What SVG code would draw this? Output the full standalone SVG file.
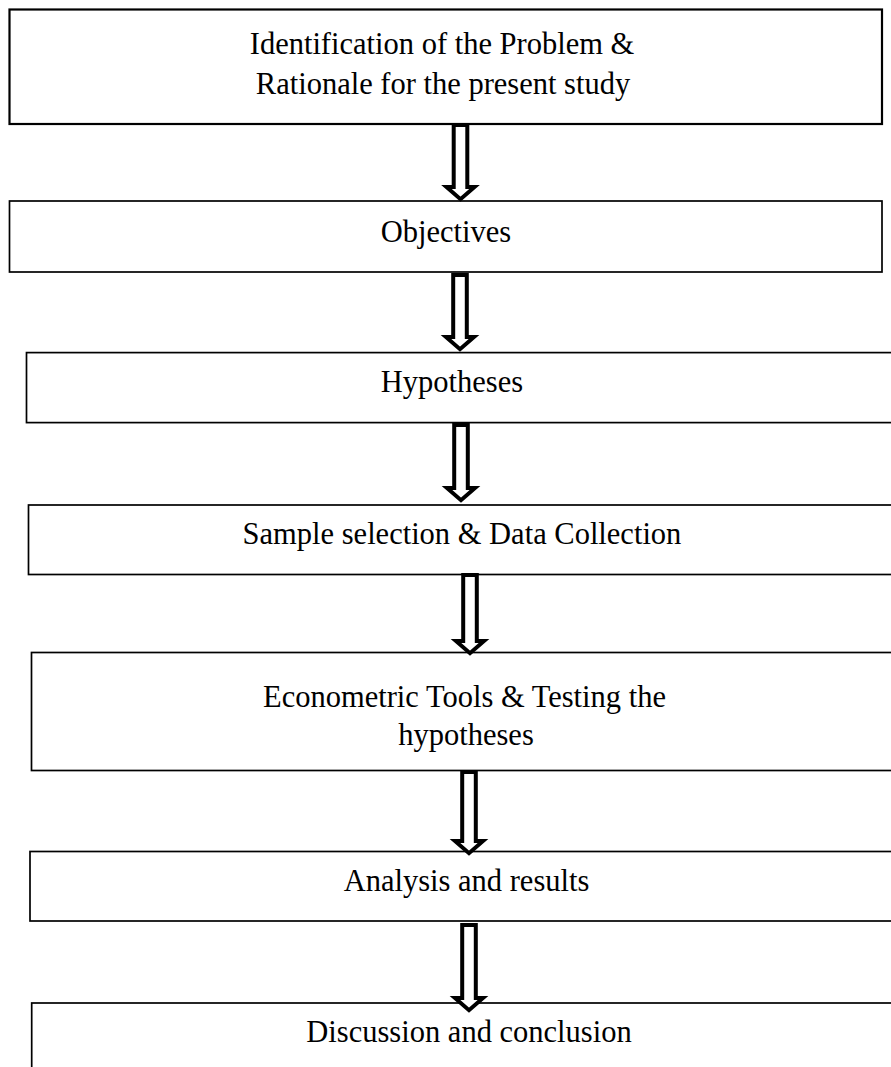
<svg xmlns="http://www.w3.org/2000/svg" width="891" height="1067" viewBox="0 0 891 1067">
<style>
.box{fill:#fff;stroke:#000;stroke-width:1.7}
.t{font-family:"Liberation Serif","Times New Roman",serif;font-size:30.5px;fill:#000;text-anchor:middle}
.arr{fill:#fff;stroke:#000;stroke-width:4;stroke-linejoin:miter}
</style>
<rect width="891" height="1067" fill="#fff"/>
<g id="n1"><rect class="box" x="9.5" y="9.5" width="872.5" height="114.5" style="stroke-width:2.2"/>
<text class="t" x="442" y="54">Identification of the Problem &amp;</text>
<text class="t" x="443" y="94">Rationale for the present study</text></g>
<g id="n2"><rect class="box" x="9.5" y="201" width="872.5" height="71"/>
<text class="t" x="446" y="242">Objectives</text></g>
<g id="n3"><rect class="box" x="26.5" y="352.6" width="880" height="70"/>
<text class="t" x="452" y="392">Hypotheses</text></g>
<g id="n4"><rect class="box" x="28.5" y="505" width="880" height="69.5"/>
<text class="t" x="462" y="544">Sample selection &amp; Data Collection</text></g>
<g id="n5"><rect class="box" x="31.5" y="652.5" width="880" height="118"/>
<text class="t" x="464.5" y="707">Econometric Tools &amp; Testing the</text>
<text class="t" x="466" y="745">hypotheses</text></g>
<g id="n6"><rect class="box" x="30" y="851.5" width="880" height="69.5"/>
<text class="t" x="466.5" y="890.5">Analysis and results</text></g>
<g id="n7"><rect class="box" x="31.7" y="1003" width="880" height="100"/>
<text class="t" x="469" y="1042">Discussion and conclusion</text></g>
<g id="connectors">
<path class="arr" d="M453.7,125 H467.3 V187 H474.5 L460.5,199.2 L446.5,187 H453.7 Z"/>
<path class="arr" d="M453.2,275 H466.8 V337 H474 L460,349.2 L446,337 H453.2 Z"/>
<path class="arr" d="M454.2,425 H467.8 V488 H475 L461,500.2 L447,488 H454.2 Z"/>
<path class="arr" d="M463.2,575 H476.8 V641 H484 L470,653.2 L456,641 H463.2 Z"/>
<path class="arr" d="M462.2,772 H475.8 V841 H483 L469,853.2 L455,841 H462.2 Z"/>
<path class="arr" d="M462.2,925 H475.8 V998 H483 L469,1010.2 L455,998 H462.2 Z"/>
</g>
</svg>
